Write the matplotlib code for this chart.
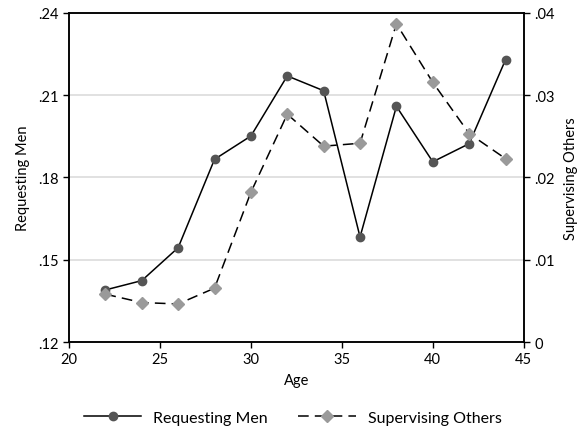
import matplotlib.pyplot as plt
from matplotlib.ticker import FuncFormatter

plt.rcParams['font.family'] = ['Lato', 'DejaVu Sans']

ages = [22, 24, 26, 28, 30, 32, 34, 36, 38, 40, 42, 44]
requesting_men = [0.1390, 0.1424, 0.1544, 0.1866, 0.1951, 0.2170,
                  0.2116, 0.1583, 0.2059, 0.1857, 0.1923, 0.2229]
supervising_others = [0.00582, 0.00480, 0.00463, 0.00655, 0.01820, 0.02768,
                      0.02380, 0.02415, 0.03866, 0.03155, 0.02533, 0.02228]

left_ticks = [0.12, 0.15, 0.18, 0.21, 0.24]
right_ticks = [0, 0.01, 0.02, 0.03, 0.04]
x_ticks = [20, 25, 30, 35, 40, 45]


def no_lead_zero(v, pos=None):
    if v == 0:
        return "0"
    s = f"{v:.2f}".rstrip("0")
    return s[1:] if s.startswith("0") else s


fig = plt.figure(figsize=(5.8, 4.31), dpi=100)
ax = fig.add_axes([0.119, 0.204, 0.784, 0.764])
ax2 = ax.twinx()

for y in left_ticks:
    ax.axhline(y, color="#dcdcdc", linewidth=1.2, zorder=0)

l1, = ax.plot(ages, requesting_men, color="black", linewidth=1.1,
              marker="o", markersize=6, markerfacecolor="#555555",
              markeredgecolor="#555555", label="Requesting Men", zorder=3)
l2, = ax2.plot(ages, supervising_others, color="black", linewidth=1.1,
               linestyle=(0, (7, 4)), marker="D", markersize=6,
               markerfacecolor="#9a9a9a", markeredgecolor="#9a9a9a",
               label="Supervising Others", zorder=3)

ax.set_xlim(20, 45)
ax.set_ylim(0.12, 0.24)
ax2.set_ylim(0, 0.04)
ax.set_xticks(x_ticks)
ax.set_yticks(left_ticks)
ax2.set_yticks(right_ticks)
ax.yaxis.set_major_formatter(FuncFormatter(no_lead_zero))
ax2.yaxis.set_major_formatter(FuncFormatter(no_lead_zero))

for a in (ax, ax2):
    a.tick_params(direction="out", length=4, width=1, labelsize=10.5, colors="black")
    for sp in a.spines.values():
        sp.set_linewidth(1.1)

ax.set_xlabel("Age", fontsize=10.5, labelpad=5)
ax.set_ylabel("Requesting Men", fontsize=10.5, labelpad=6)
ax2.set_ylabel("Supervising Others", fontsize=10.5, labelpad=7)

fig.legend(handles=[l1, l2], loc="center", bbox_to_anchor=(0.505, 0.028),
           ncol=2, frameon=False, fontsize=11.5, handlelength=3.6,
           handletextpad=0.75, columnspacing=1.9)

fig.savefig("out.png", dpi=100)
